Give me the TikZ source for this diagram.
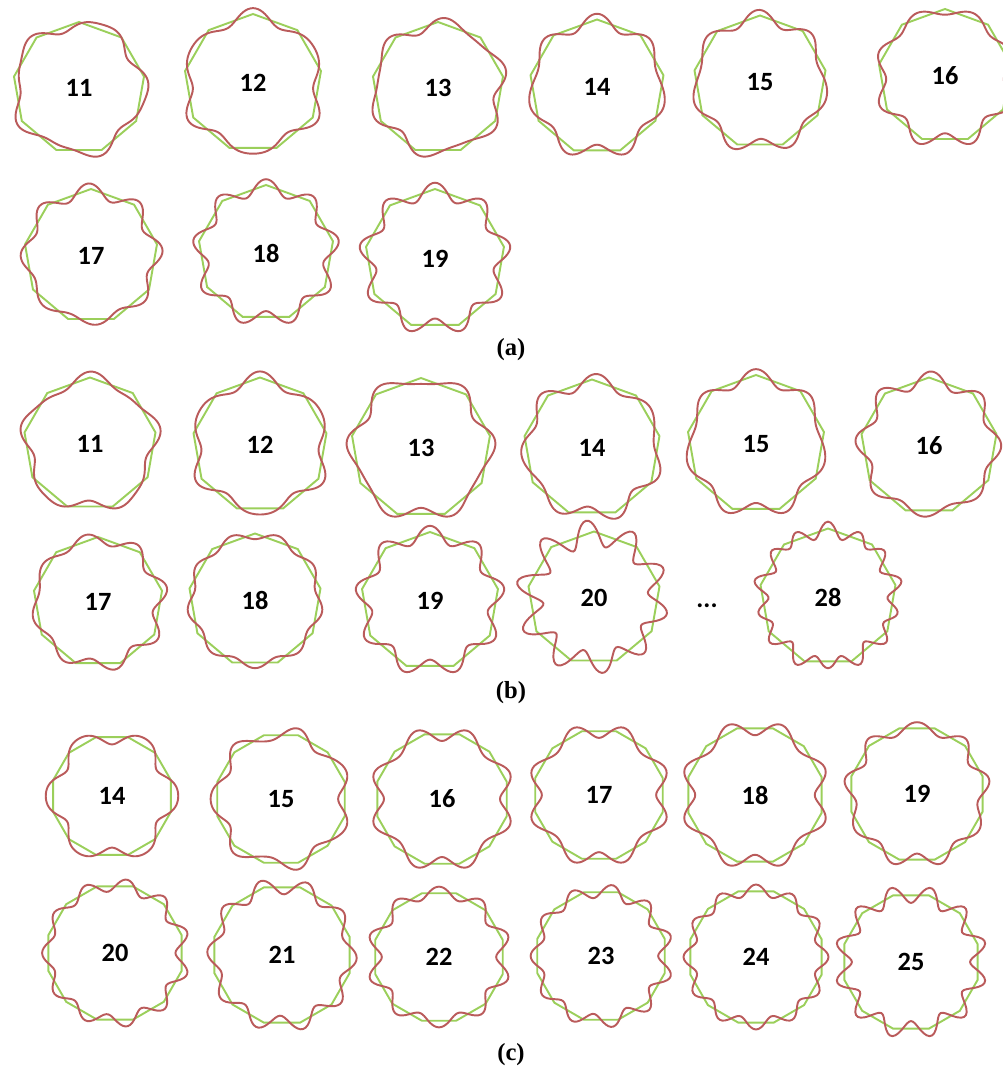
\documentclass[tikz,border=0pt]{standalone}
\usepackage{fontspec}
\setmainfont{Liberation Serif}
\setsansfont{Carlito}
\usetikzlibrary{shapes.geometric}
\definecolor{polygreen}{HTML}{9BCF5B}
\definecolor{modered}{HTML}{BA5B5B}
\tikzset{
    cavity/.style={regular polygon,regular polygon sides=#1,draw=polygreen,line width=1.1pt,
        inner sep=0pt,font=\sffamily\bfseries\fontsize{15}{17}\selectfont},
    mode/.style={draw=modered,line width=1.1pt},
    panel/.style={font=\bfseries\fontsize{14}{16}\selectfont},
}
\begin{document}
\begin{tikzpicture}[x=0.02cm,y=-0.02cm]
    \clip (0,0) rectangle (1003,1073);
    % group/sides/vertex angle/x/y/radius/mode number/lobes/amplitude/phase
    \foreach \grp/\nside/\vang/\px/\py/\rad/\lbl/\lobes/\ampl/\phs in {
        a/9/270/79/88/66/11/5/0.085/40,
        a/9/270/253/83/69/12/6/0.085/60,
        a/9/270/438/88/66/13/6/0.085/130,
        a/9/270/597/87/67.5/14/7/0.085/90,
        a/9/270/760/82/66.5/15/7/0.085/140,
        a/9/270/945/76/67/16/8/0.085/90,
        a/9/270/91/256/67/17/8/0.085/200,
        a/9/270/266/253/68/18/9/0.085/90,
        a/9/270/435/259/70/19/9/0.09/90,
        b/9/270/90/444/66.5/11/5/0.09/20,
        b/9/270/260/445/67.5/12/6/0.09/60,
        b/9/270/421/448/70/13/6/0.085/90,
        b/9/270/592/448/68.5/14/7/0.09/250,
        b/9/270/756/444/69/15/7/0.085/90,
        b/9/270/929/446/68.5/16/8/0.09/160,
        b/9/270/98/602/65/17/8/0.085/100,
        b/9/270/255/600/66.5/18/9/0.085/70,
        b/9/270/430/601/69/19/9/0.09/90,
        b/9/270/594/598/66.5/20/10/0.18/30,
        b/9/270/828/597/68.5/28/14/0.1/0,
        c/12/15/112/796/61/14/6/0.12/30,
        c/12/15/281/799/66/15/7/0.1/0,
        c/12/15/442/799/67/16/8/0.1/90,
        c/12/15/599/795/66/17/8/0.1/45,
        c/12/15/755/795/69/18/8/0.1/0,
        c/12/15/917/794/68/19/9/0.09/90,
        c/12/15/115/953/69/20/11/0.09/0,
        c/12/15/282/955/70/21/10/0.1/20,
        c/12/15/439/957/66/22/10/0.1/0,
        c/12/15/601/956/66/23/11/0.1/0,
        c/12/15/756/957/68/24/12/0.1/15,
        c/12/15/911/962/69/25/12/0.11/0}
    {
        \pgfmathsetmacro\dia{2*\rad*0.02}
        \node[cavity=\nside,minimum size=\dia cm] (\grp\lbl) at (\px,\py) {\lbl};
        \draw[mode,shift={(\px,\py)}] plot[variable=\t,domain=0:358,samples=180,smooth cycle]
            (\t:{\rad*((1+cos(180/\nside))/2+(1-cos(180/\nside))/2*cos(\nside*(\t-\vang)))-\ampl*\rad*cos(\lobes*(\t-\phs))});
    }
    \node[font=\sffamily\bfseries\fontsize{15}{17}\selectfont] (dots) at (707,606) {...};
    \node[panel] (capa) at (511,350) {(a)};
    \node[panel] (capb) at (511,693) {(b)};
    \node[panel] (capc) at (511,1055) {(c)};
\end{tikzpicture}
\end{document}
